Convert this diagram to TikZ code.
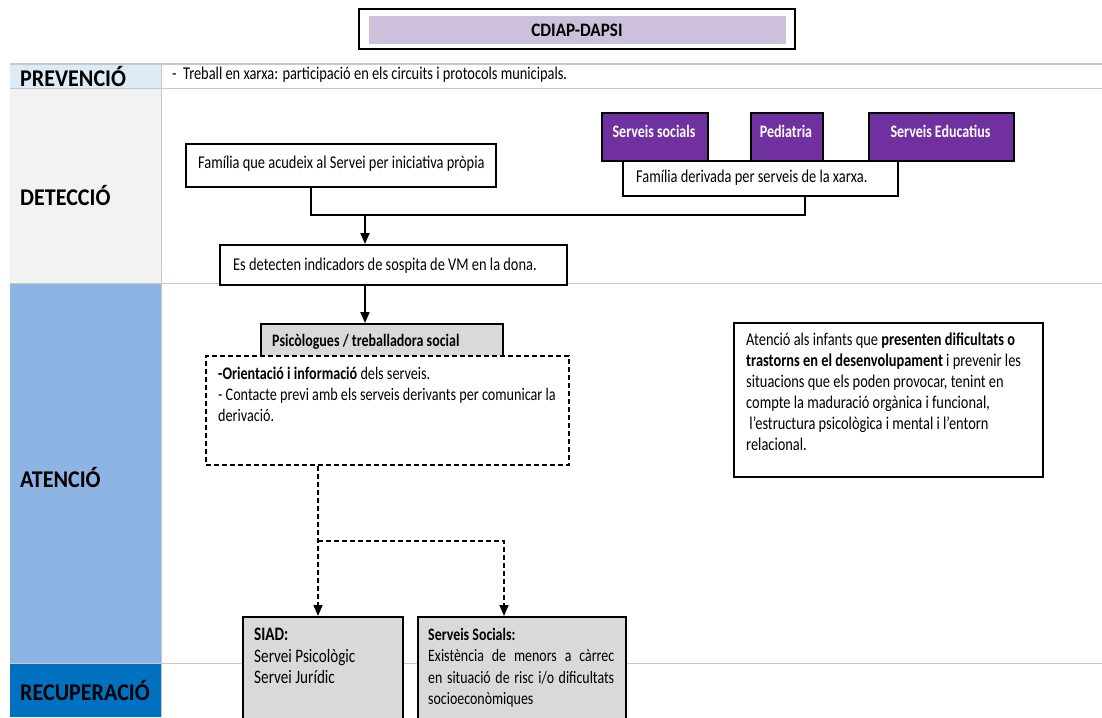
\documentclass[tikz,border=0pt]{standalone}
\usepackage{fontspec}
\setmainfont{Carlito}[FakeStretch=0.8]
\newfontfamily\phasefont{Carlito}[FakeStretch=0.92]
\newfontfamily\headfont{Carlito}[FakeStretch=0.9]
\usetikzlibrary{arrows.meta}
\definecolor{lilac}{HTML}{CCC0DA}
\definecolor{violet}{HTML}{7030A0}
\definecolor{prevcell}{HTML}{DDEBF7}
\definecolor{detcell}{HTML}{F2F2F2}
\definecolor{atecell}{HTML}{8DB4E2}
\definecolor{reccell}{HTML}{0070C0}
\definecolor{boxgray}{HTML}{D9D9D9}
\definecolor{gridline}{HTML}{C8C8C8}
\tikzset{
  body/.style={font=\fontsize{18}{21}\selectfont},
  plainbox/.style={draw=black, line width=1.8pt, fill=white, inner sep=0pt},
  purplebox/.style={draw=black, line width=1.8pt, fill=violet, inner sep=0pt},
  purpletext/.style={text=white, font=\fontsize{17.5}{18}\selectfont\bfseries, inner sep=0pt},
  graybox/.style={draw=black, line width=1.8pt, fill=boxgray, inner sep=0pt},
  dashbox/.style={draw=black, line width=1.6pt, dash pattern=on 5pt off 3pt, fill=white, inner sep=0pt},
  rowlabel/.style={anchor=west, inner sep=0pt, font=\phasefont\fontsize{24}{26}\selectfont\bfseries},
  txt/.style={body, anchor=north west, align=left, inner sep=0pt},
  conn/.style={line width=1.8pt},
  arr/.style={line width=1.8pt, -{Triangle[length=11pt,width=9pt]}},
  darr/.style={line width=1.6pt, dash pattern=on 5pt off 3pt, -{Triangle[length=11pt,width=9pt]}},
}
\begin{document}
\begin{tikzpicture}[x=1pt,y=-1pt]
\useasboundingbox (0,0) rectangle (1102,717);
\clip (0,0) rectangle (1102,717);

% title
\node[draw=black, line width=2pt, minimum width=436pt, minimum height=40pt, inner sep=0pt] (titleframe) at (577,29) {};
\node[fill=lilac, minimum width=417pt, minimum height=28pt, inner sep=0pt,
  font=\headfont\fontsize{19}{20}\selectfont\bfseries] (title) at (577,30) {CDIAP-DAPSI};

% phase column
\fill[prevcell] (10,64) rectangle (161,88);
\fill[detcell] (10,88) rectangle (161,283);
\fill[atecell] (10,283) rectangle (161,663);
\fill[reccell] (10,663) rectangle (161,717);
\draw[gridline, line width=1pt] (10,64) -- (1102,64);
\draw[gridline, line width=1pt] (10,88) -- (1102,88);
\draw[gridline, line width=1pt] (10,283) -- (1102,283);
\draw[gridline, line width=1pt] (10,663) -- (1102,663);
\draw[gridline, line width=1pt] (161,64) -- (161,717);

\node[rowlabel] (lprev) at (20,77) {PREVENCIÓ};
\node[rowlabel] (ldet) at (20,196) {DETECCIÓ};
\node[rowlabel] (late) at (20,477) {ATENCIÓ};
\node[rowlabel] (lrec) at (20,691) {RECUPERACIÓ};

\node[body, anchor=west, inner sep=0pt] (prevtext) at (172,75)
  {-\ \ Treball en xarxa: participació en els circuits i protocols municipals.};

% detection
\node[purplebox, minimum width=106pt, minimum height=48pt, anchor=north west] (ss1) at (601,112) {};
\node[purpletext] at (654,131) {Serveis socials};
\node[purplebox, minimum width=72pt, minimum height=48pt, anchor=north west] (ped) at (750,112) {};
\node[purpletext] at (786,131) {Pediatria};
\node[purplebox, minimum width=145pt, minimum height=48pt, anchor=north west] (sed) at (868,112) {};
\node[purpletext] at (940.5,131) {Serveis Educatius};

\node[plainbox, minimum width=275pt, minimum height=35pt, anchor=north west] (der) at (622,160) {};
\node[body, anchor=west, inner sep=0pt] at (636,178) {Família derivada per serveis de la xarxa.};

\node[plainbox, minimum width=310pt, minimum height=43pt, anchor=north west] (fam) at (185,143) {};
\node[body, anchor=west, inner sep=0pt] at (198,164) {Família que acudeix al Servei per iniciativa pròpia};

\node[plainbox, minimum width=347pt, minimum height=40pt, anchor=north west] (det) at (219,244) {};
\node[body, anchor=west, inner sep=0pt] at (233,266) {Es detecten indicadors de sospita de VM en la dona.};

\coordinate (jl) at (311,215);
\coordinate (jr) at (805,215);
\coordinate (jn) at (365,215);
\draw[conn] (jl |- fam.south) -- (jl) -- (jr) -- (jr |- der.south);
\draw[arr] (jn) -- (det.north -| jn);

% attention
\node[graybox, minimum width=242pt, minimum height=37pt, anchor=north west] (psi) at (260,323) {};
\node[font=\fontsize{17.5}{18}\selectfont\bfseries, anchor=west, inner sep=0pt] at (272,342) {Psicòlogues / treballadora social};
\draw[arr] (det.south -| jn) -- (psi.north -| jn);

\node[dashbox, minimum width=363pt, minimum height=109pt, anchor=north west] (ori) at (205,355) {};
\node[txt, font=\fontsize{17.7}{21}\selectfont] at (218,367) {\textbf{-Orientació i informació} dels serveis.\\
- Contacte previ amb els serveis derivants per comunicar la\\
derivació.};

\node[plainbox, minimum width=309pt, minimum height=154pt, anchor=north west] (inf) at (733,322) {};
\node[txt] at (746,333) {Atenció als infants que \textbf{presenten dificultats o}\\
\textbf{trastorns en el desenvolupament} i prevenir les\\
situacions que els poden provocar, tenint en\\
compte la maduració orgànica i funcional,\\
\ l’estructura psicològica i mental i l’entorn\\
relacional.};

% recovery resources
\node[graybox, minimum width=160pt, minimum height=120pt, anchor=north west] (siad) at (242,616) {};
\node[txt, font=\fontsize{19}{21.5}\selectfont] at (254,628) {\textbf{SIAD:}\\ Servei Psicològic\\ Servei Jurídic};
\node[graybox, minimum width=208pt, minimum height=120pt, anchor=north west] (ssoc) at (417,616) {};
\node[txt, font=\fontsize{17.4}{21.5}\selectfont] at (428,628) {\textbf{Serveis Socials:}\\
\makebox[186pt][s]{Existència de menors a càrrec}\\
\makebox[186pt][s]{en situació de risc i/o dificultats}\\
socioeconòmiques};

\coordinate (dl) at (318,541);
\coordinate (dr) at (504,541);
\draw[darr] (ori.south -| dl) -- (siad.north -| dl);
\draw[darr] (dl) -- (dr) -- (ssoc.north -| dr);
\end{tikzpicture}
\end{document}
